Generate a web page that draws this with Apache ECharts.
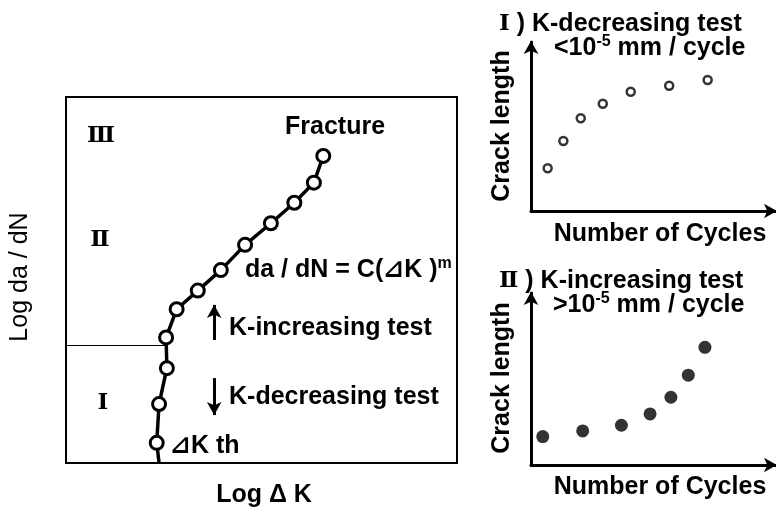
<!DOCTYPE html>
<html>
<head>
<meta charset="utf-8">
<script src="https://cdn.jsdelivr.net/npm/echarts@6/dist/echarts.min.js"></script>
<style>
  html, body { margin: 0; padding: 0; background: #fff; }
  #chart { width: 776px; height: 511px; }
</style>
</head>
<body>
<div id="chart"></div>
<script>
// Fatigue crack growth curve (schematic units, 0-100 on both log axes)
const logDeltaK = [23.8, 23.2, 23.8, 25.8, 25.6, 28.3, 33.7, 39.6, 45.8, 52.4, 58.4, 63.4, 65.8];
const logRate   = [0,    5.5,  16.1, 25.9, 34.3, 42.0, 47.1, 52.7, 59.6, 65.5, 71.1, 76.6, 83.9];

// Boundary between regime I and II, and the direction arrows
const regimeBoundary = 32.2;
const boundaryEndK = 25.3;
const arrowK = 37.9;
const increasingArrow = [33.6, 43.2];
const decreasingArrow = [23.2, 13.1];

// I) K-decreasing test: crack length vs cycles
const decCycles = [6.8, 13.2, 20.3, 29.3, 40.7, 56.4, 72.1];
const decLength = [25.3, 41.4, 54.9, 63.5, 70.6, 74.1, 77.5];

// II) K-increasing test: crack length vs cycles
const incCycles = [4.8, 21.1, 36.9, 48.6, 57.1, 64.2, 71.0];
const incLength = [16.5, 19.8, 23.1, 29.7, 39.4, 52.2, 68.4];

const SANS = "'Liberation Sans', Arial, 'DejaVu Sans', sans-serif";
const SERIF = "'DejaVu Serif', 'Liberation Serif', serif";
const MATH = "'Liberation Sans', 'DejaVu Sans', 'Noto Sans CJK JP', sans-serif";
const FS = 25;

const chart = echarts.init(document.getElementById('chart'), null, { renderer: 'canvas' });

function hiddenAxis(gridIndex) {
  return {
    type: 'value', gridIndex, min: 0, max: 100,
    axisLine: { show: false }, axisTick: { show: false },
    axisLabel: { show: false }, splitLine: { show: false }
  };
}
function arrowAxis(gridIndex) {
  return {
    type: 'value', gridIndex, min: 0, max: 100,
    axisLine: {
      show: true, onZero: false,
      lineStyle: { color: '#000', width: 3 },
      symbol: ['none', 'arrow'], symbolSize: [11, 13], symbolOffset: [0, 1]
    },
    axisTick: { show: false }, axisLabel: { show: false }, splitLine: { show: false }
  };
}

function txt(x, y, text, opts) {
  opts = opts || {};
  return {
    type: 'text', x, y, rotation: opts.rotation || 0, silent: true,
    style: {
      text,
      fill: '#000',
      fontSize: opts.fontSize || FS,
      fontWeight: opts.fontWeight || 'bold',
      fontFamily: opts.fontFamily || SANS,
      align: opts.align || 'left',
      verticalAlign: 'middle',
      rich: opts.rich
    }
  };
}

const supRich = {
  b: { fontSize: FS, fontWeight: 'bold', fontFamily: MATH, fill: '#000', verticalAlign: 'middle' },
  s: { fontSize: 16, fontWeight: 'bold', fontFamily: SANS, fill: '#000', verticalAlign: 'top', padding: [0, 0, 12, 0] },
  r: { fontSize: 23, fontWeight: 'bold', fontFamily: SERIF, fill: '#000', verticalAlign: 'middle' }
};

const numeral = { fontFamily: SERIF, fontWeight: 'bold', fontSize: 23, align: 'center' };

const option = {
  backgroundColor: '#fff',
  animation: false,
  grid: [
    { left: 66, top: 97, width: 391, height: 366, show: true, borderColor: '#000', borderWidth: 2, backgroundColor: 'transparent' },
    { left: 531, top: 42, width: 245, height: 169 },
    { left: 531, top: 293, width: 245, height: 172 }
  ],
  xAxis: [hiddenAxis(0), arrowAxis(1), arrowAxis(2)],
  yAxis: [hiddenAxis(0), arrowAxis(1), arrowAxis(2)],
  series: [
    {
      type: 'line', xAxisIndex: 0, yAxisIndex: 0,
      data: logDeltaK.map((k, i) => i === 0
        ? { value: [k, logRate[i]], symbol: 'none' }
        : [k, logRate[i]]),
      symbol: 'circle', symbolSize: 13,
      lineStyle: { color: '#000', width: 3.5 },
      itemStyle: { color: '#fff', borderColor: '#000', borderWidth: 3 },
      z: 3,
      markLine: {
        silent: true, symbol: ['none', 'none'], label: { show: false },
        animation: false,
        data: [
          [
            { coord: [0, regimeBoundary], lineStyle: { color: '#000', width: 1, type: 'solid' } },
            { coord: [boundaryEndK, regimeBoundary] }
          ],
          [
            { coord: [arrowK, increasingArrow[0]], symbol: 'none', lineStyle: { color: '#000', width: 3, type: 'solid' } },
            { coord: [arrowK, increasingArrow[1]], symbol: 'arrow', symbolSize: [11, 13] }
          ],
          [
            { coord: [arrowK, decreasingArrow[0]], symbol: 'none', lineStyle: { color: '#000', width: 3, type: 'solid' } },
            { coord: [arrowK, decreasingArrow[1]], symbol: 'arrow', symbolSize: [11, 13] }
          ]
        ]
      }
    },
    {
      type: 'scatter', xAxisIndex: 1, yAxisIndex: 1,
      data: decCycles.map((c, i) => [c, decLength[i]]),
      symbol: 'circle', symbolSize: 8,
      itemStyle: { color: '#fff', borderColor: '#000', borderWidth: 2.5 }
    },
    {
      type: 'scatter', xAxisIndex: 2, yAxisIndex: 2,
      data: incCycles.map((c, i) => [c, incLength[i]]),
      symbol: 'circle', symbolSize: 13,
      itemStyle: { color: '#000' }
    }
  ],
  graphic: [
    // regime numerals
    txt(101, 136, 'Ⅲ', numeral),
    txt(100, 240, 'Ⅱ', numeral),
    txt(103, 403, 'Ⅰ', numeral),
    // main plot annotations
    txt(285, 127, 'Fracture'),
    txt(245, 270, '{b|da / dN = C(⊿K )}{s|m}', { rich: supRich }),
    txt(229, 328, 'K-increasing test'),
    txt(229, 397, 'K-decreasing test'),
    txt(170, 446, '⊿K th', { fontFamily: MATH }),
    // main axis titles
    txt(264, 495, 'Log Δ K', { align: 'center' }),
    txt(20, 277, 'Log da / dN', { align: 'center', rotation: Math.PI / 2, fontWeight: 'normal' }),
    // panel I
    txt(499, 24, '{r|Ⅰ}{b| ) K-decreasing test}', { rich: supRich }),
    txt(554, 48, '{b|<10}{s|-5}{b| mm / cycle}', { rich: supRich }),
    txt(502, 126, 'Crack length', { align: 'center', rotation: Math.PI / 2 }),
    txt(660, 234, 'Number of Cycles', { align: 'center' }),
    // panel II
    txt(499, 281, '{r|Ⅱ}{b| ) K-increasing test}', { rich: supRich }),
    txt(553, 305, '{b|>10}{s|-5}{b| mm / cycle}', { rich: supRich }),
    txt(502, 378, 'Crack length', { align: 'center', rotation: Math.PI / 2 }),
    txt(660, 487, 'Number of Cycles', { align: 'center' })
  ]
};

chart.setOption(option);
</script>
</body>
</html>
